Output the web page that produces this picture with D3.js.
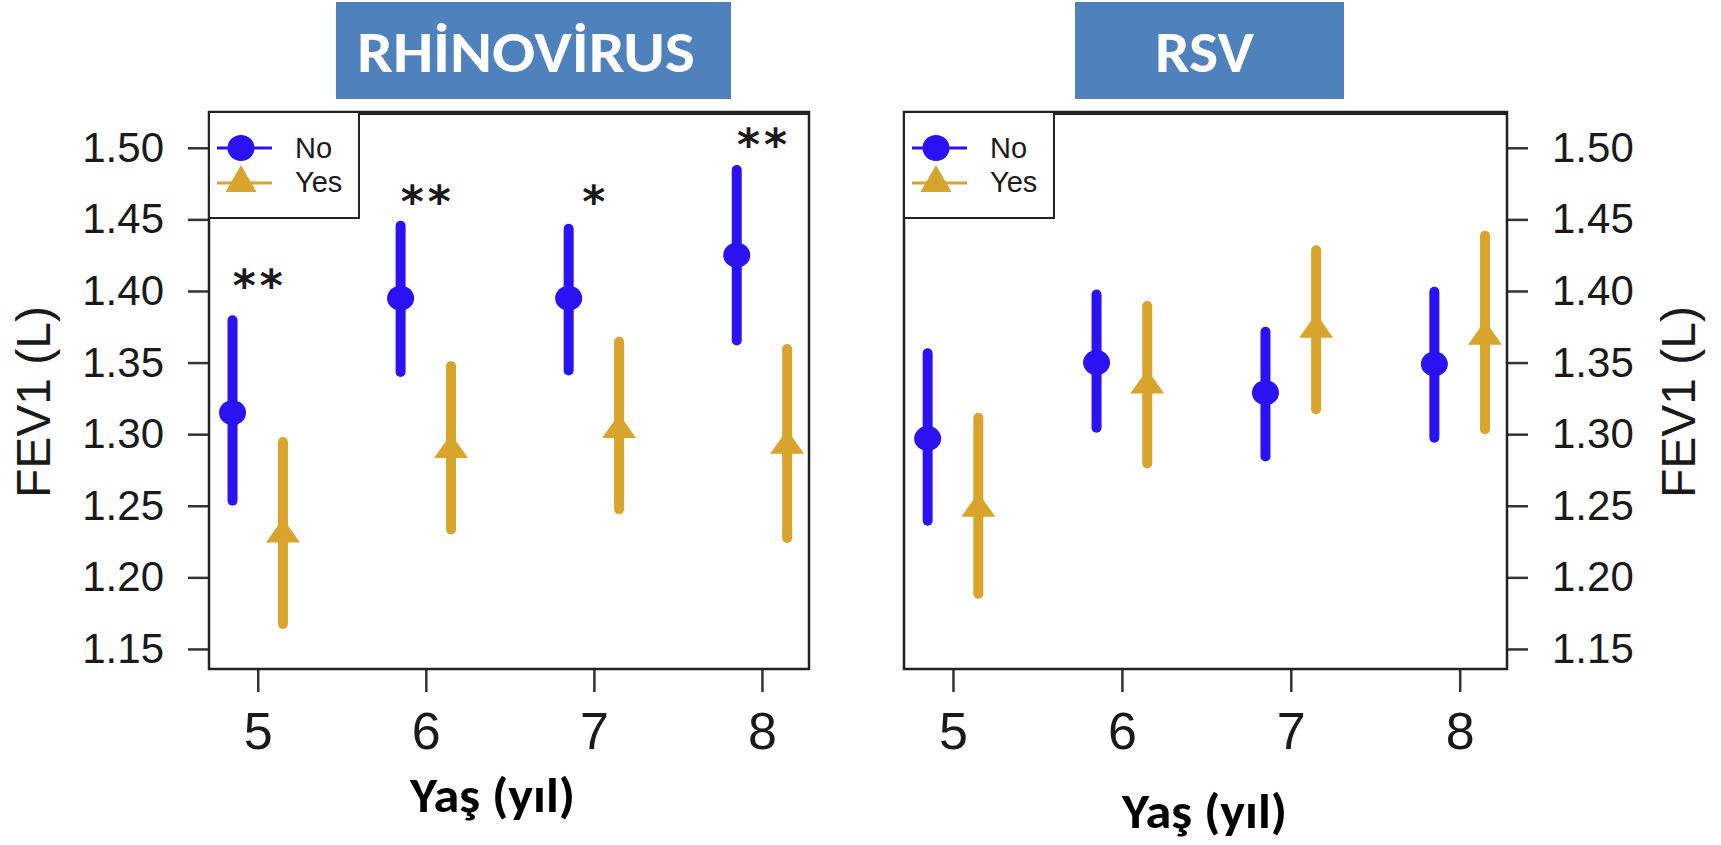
<!DOCTYPE html>
<html><head><meta charset="utf-8">
<script src="https://cdn.jsdelivr.net/npm/d3@7"></script>
<style>body{margin:0;background:#fff}</style>
</head><body>
<svg id="c" width="1721" height="845"></svg>
<script>
// ---------- data ----------
const ages = [5, 6, 7, 8];
const yTicks = [1.15, 1.20, 1.25, 1.30, 1.35, 1.40, 1.45, 1.50];
const seriesNames = ["No", "Yes"];
const panelTitles = ["RHİNOVİRUS", "RSV"];
const xTitle = "Yaş (yıl)";
const yTitle = "FEV1 (L)";

const rhinoNoMean = [1.315, 1.395, 1.395, 1.425];
const rhinoNoLo   = [1.250, 1.340, 1.341, 1.362];
const rhinoNoHi   = [1.383, 1.449, 1.447, 1.488];
const rhinoYesMean = [1.230, 1.289, 1.303, 1.292];
const rhinoYesLo   = [1.164, 1.230, 1.244, 1.224];
const rhinoYesHi   = [1.298, 1.351, 1.368, 1.363];
const rhinoStars   = ["**", "**", "*", "**"];
const rhinoStarPos = [1.410, 1.469, 1.469, 1.509];

const rsvNoMean = [1.297, 1.350, 1.329, 1.349];
const rsvNoLo   = [1.236, 1.301, 1.281, 1.294];
const rsvNoHi   = [1.360, 1.401, 1.375, 1.403];
const rsvYesMean = [1.248, 1.334, 1.373, 1.368];
const rsvYesLo   = [1.185, 1.276, 1.314, 1.300];
const rsvYesHi   = [1.315, 1.393, 1.432, 1.442];

// ---------- style / layout ----------
const BLUE = "#2a12f2", GOLD = "#d8a42c", BOXBLUE = "#4f81bd", INK = "#1a1a1a";
const AXFONT = "'Liberation Sans', Arial, Helvetica, sans-serif";
const TFONT = "Carlito, 'Open Sans', 'Liberation Sans', sans-serif";
const svg = d3.select("#c");
svg.append("rect").attr("width", 1721).attr("height", 845).attr("fill", "#fff");

const y = d3.scaleLinear().domain([1.136, 1.525]).range([669, 112]);

const panels = [
  { title: panelTitles[0], x0: 209, x1: 809, side: "left",
    tb: [336, 731], tw: 338, tcx: 526,
    xtx: 492.5, xty: 812, xtw: 165, ytx: 50,
    no: [rhinoNoMean, rhinoNoLo, rhinoNoHi], yes: [rhinoYesMean, rhinoYesLo, rhinoYesHi],
    stars: rhinoStars, starPos: rhinoStarPos },
  { title: panelTitles[1], x0: 904, x1: 1507, side: "right",
    tb: [1075, 1344], tw: 99, tcx: 1204.5,
    xtx: 1204.5, xty: 828, xtw: 165, ytx: 1695,
    no: [rsvNoMean, rsvNoLo, rsvNoHi], yes: [rsvYesMean, rsvYesLo, rsvYesHi],
    stars: null, starPos: null }
];

function triPath(cx, cy, w, h) {
  // centroid at (cx, cy), tip up
  const p = d3.path();
  p.moveTo(cx, cy - 2 * h / 3);
  p.lineTo(cx + w / 2, cy + h / 3);
  p.lineTo(cx - w / 2, cy + h / 3);
  p.closePath();
  return p.toString();
}

panels.forEach(P => {
  const x = d3.scaleLinear().domain([4.71, 8.28]).range([P.x0, P.x1]);
  const g = svg.append("g");

  // title box
  g.append("rect").attr("x", P.tb[0]).attr("y", 2).attr("width", P.tb[1] - P.tb[0]).attr("height", 97)
    .attr("fill", BOXBLUE);
  g.append("text").attr("x", P.tcx).attr("y", 72).attr("text-anchor", "middle")
    .attr("font-family", TFONT).attr("font-weight", "bold").attr("font-size", 58)
    .attr("fill", "#fff").attr("textLength", P.tw).attr("lengthAdjust", "spacingAndGlyphs")
    .text(P.title);

  // error bars + markers
  const series = [
    { vals: P.no, off: -0.15, color: BLUE, shape: "circle" },
    { vals: P.yes, off: 0.15, color: GOLD, shape: "tri" }
  ];
  series.forEach(S => {
    const [m, lo, hi] = S.vals;
    g.selectAll(null).data(ages).enter().append("line")
      .attr("x1", (d) => x(d + S.off)).attr("x2", (d) => x(d + S.off))
      .attr("y1", (d, i) => y(lo[i]) - 5).attr("y2", (d, i) => y(hi[i]) + 5)
      .attr("stroke", S.color).attr("stroke-width", 10).attr("stroke-linecap", "round");
    if (S.shape === "circle") {
      g.selectAll(null).data(ages).enter().append("ellipse")
        .attr("cx", (d) => x(d + S.off)).attr("cy", (d, i) => y(m[i]))
        .attr("rx", 13.5).attr("ry", 12.5).attr("fill", S.color);
    } else {
      g.selectAll(null).data(ages).enter().append("path")
        .attr("d", (d, i) => triPath(x(d + S.off), y(m[i]), 34, 24)).attr("fill", S.color);
    }
  });

  // stars
  if (P.stars) {
    g.selectAll(null).data(ages).enter().append("text")
      .attr("x", (d) => x(d) + 2).attr("y", (d, i) => y(P.starPos[i]))
      .attr("dy", "0.56em").attr("text-anchor", "middle")
      .attr("font-family", "'DejaVu Sans', 'Liberation Sans', sans-serif").attr("font-weight", "bold")
      .attr("font-size", 44).attr("letter-spacing", "4px")
      .attr("fill", INK).text((d, i) => P.stars[i]);
  }

  // axes
  const yAxis = (P.side === "left" ? d3.axisLeft(y) : d3.axisRight(y))
    .tickValues(yTicks).tickFormat(d3.format(".2f")).tickSize(21).tickPadding(24).tickSizeOuter(0);
  const ya = g.append("g").attr("transform", `translate(${P.side === "left" ? P.x0 : P.x1},0)`).call(yAxis);
  ya.select(".domain").remove();
  ya.selectAll("line").attr("stroke", "#333").attr("stroke-width", 2.5);
  ya.selectAll("text").attr("font-family", AXFONT).attr("font-size", 42).attr("fill", INK);

  const xAxis = d3.axisBottom(x).tickValues(ages).tickFormat(d3.format("d"))
    .tickSize(23).tickPadding(20).tickSizeOuter(0);
  const xa = g.append("g").attr("transform", "translate(0,669)").call(xAxis);
  xa.select(".domain").remove();
  xa.selectAll("line").attr("stroke", "#333").attr("stroke-width", 2.5);
  xa.selectAll("text").attr("font-family", AXFONT).attr("font-size", 52).attr("fill", INK);

  // plot box
  g.append("rect").attr("x", P.x0).attr("y", 112).attr("width", P.x1 - P.x0).attr("height", 557)
    .attr("fill", "none").attr("stroke", "#222").attr("stroke-width", 2.5);
  g.append("line").attr("x1", P.x0).attr("x2", P.x1).attr("y1", 113).attr("y2", 113)
    .attr("stroke", "#222").attr("stroke-width", 4);

  // legend
  const L = g.append("g");
  L.append("rect").attr("x", P.x0).attr("y", 112).attr("width", 150).attr("height", 106)
    .attr("fill", "#fff").attr("stroke", "#222").attr("stroke-width", 2);
  const legY = [148, 183];
  seriesNames.forEach((name, k) => {
    const col = k === 0 ? BLUE : GOLD;
    L.append("line").attr("x1", P.x0 + 8).attr("x2", P.x0 + 63).attr("y1", legY[k]).attr("y2", legY[k])
      .attr("stroke", col).attr("stroke-width", 3);
    if (k === 0) {
      L.append("ellipse").attr("cx", P.x0 + 32).attr("cy", legY[k]).attr("rx", 13.5).attr("ry", 13).attr("fill", col);
    } else {
      L.append("path").attr("d", triPath(P.x0 + 32, legY[k], 31, 27)).attr("fill", col);
    }
    L.append("text").attr("x", P.x0 + 86).attr("y", k === 0 ? 158 : 192)
      .attr("font-family", AXFONT).attr("font-size", 29).attr("fill", INK).text(name);
  });

  // axis titles
  g.append("text").attr("x", P.xtx).attr("y", P.xty).attr("text-anchor", "middle")
    .attr("font-family", TFONT).attr("font-weight", "bold").attr("font-size", 48)
    .attr("textLength", P.xtw).attr("lengthAdjust", "spacingAndGlyphs")
    .attr("fill", "#000").text(xTitle);
  g.append("text").attr("transform", `translate(${P.ytx},402) rotate(-90)`).attr("text-anchor", "middle")
    .attr("font-family", AXFONT).attr("font-size", 48).attr("fill", INK).text(yTitle);
});
</script>
</body></html>
